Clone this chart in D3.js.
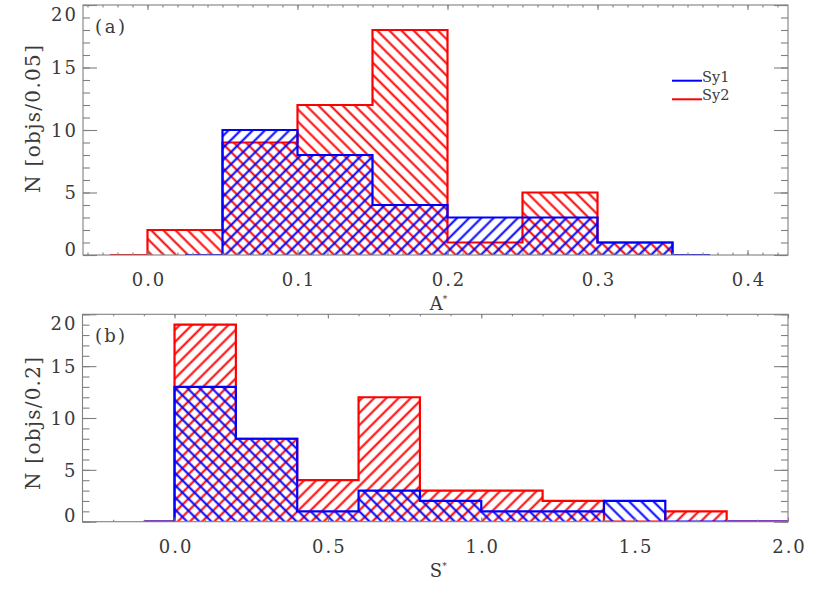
<!DOCTYPE html>
<html><head><meta charset="utf-8">
<script src="https://cdn.jsdelivr.net/npm/d3@7"></script>
<style>html,body{margin:0;padding:0;background:#fff;} svg{display:block}</style>
</head><body>
<svg id="chart" width="830" height="593"></svg>
<script>
// ---------- Panel (a): A* histogram, bin width 0.05 ----------
const aBinWidth = 0.05;
const aSy1Start = 0.05;
const aSy1 = [10, 8, 4, 3, 3, 1];
const aSy2Start = 0.00;
const aSy2 = [2, 9, 12, 18, 1, 5, 1];
const aXTicks = [0.0, 0.1, 0.2, 0.3, 0.4];
const aXTickLabels = ["0.0", "0.1", "0.2", "0.3", "0.4"];
const aYTicks = [0, 5, 10, 15, 20];

// ---------- Panel (b): S* histogram, bin width 0.2 ----------
const bBinWidth = 0.2;
const bSy1Start = 0.0;
const bSy1 = [13, 8, 1, 3, 2, 1, 1, 2, 0, 0];
const bSy2Start = 0.0;
const bSy2 = [19, 8, 4, 12, 3, 3, 2, 0, 1, 0];
const bXTicks = [0.0, 0.5, 1.0, 1.5, 2.0];
const bXTickLabels = ["0.0", "0.5", "1.0", "1.5", "2.0"];
const bYTicks = [0, 5, 10, 15, 20];

const seriesNames = ["Sy1", "Sy2"];
const seriesColors = ["#0000ff", "#ff0000"];

const FONT = "'DejaVu Serif', serif";
const TXT = "#3a3a3a";
const AX = "#808080";

const svg = d3.select("#chart");
const defs = svg.append("defs");

function hatch(id, color, angle) {
  const s = 8.6;
  const p = defs.append("pattern").attr("id", id)
    .attr("patternUnits", "userSpaceOnUse")
    .attr("width", s).attr("height", s)
    .attr("patternTransform", `rotate(${angle})`);
  p.append("line").attr("x1", s / 2).attr("y1", -1).attr("x2", s / 2).attr("y2", s + 1)
    .attr("stroke", color).attr("stroke-width", 2);
}
hatch("hRedBack", seriesColors[1], -45);
hatch("hBlueFwd", seriesColors[0], 45);
hatch("hRedFwd", seriesColors[1], 45);
hatch("hBlueBack", seriesColors[0], -45);

function stepPoints(start, w, vals) {
  const pts = [[start - w / 2, 0], [start, 0]];
  vals.forEach((v, i) => { pts.push([start + i * w, v]); pts.push([start + (i + 1) * w, v]); });
  const end = start + vals.length * w;
  pts.push([end, 0]); pts.push([end + w / 2, 0]);
  return pts;
}
function areaPoints(start, w, vals) {
  const pts = [[start, 0]];
  vals.forEach((v, i) => { pts.push([start + i * w, v]); pts.push([start + (i + 1) * w, v]); });
  pts.push([start + vals.length * w, 0]);
  return pts;
}

const panels = [
  { id: "a", xDomain: [-0.043, 0.427], xRange: [83, 788], yRange: [255, 5],
    binW: aBinWidth, sy1Start: aSy1Start, sy1: aSy1, sy2Start: aSy2Start, sy2: aSy2,
    xTicks: aXTicks, xLabels: aXTickLabels, yTicks: aYTicks, xMinorStep: 0.01,
    redPat: "hRedBack", bluePat: "hBlueFwd",
    xTitle: "A", yTitle: "N [objs/0.05]", yTitleLen: 148, yTitleY: 119, tag: "(a)", legend: true },
  { id: "b", xDomain: [-0.3, 2.0], xRange: [82.5, 788], yRange: [521.7, 314.3],
    binW: bBinWidth, sy1Start: bSy1Start, sy1: bSy1, sy2Start: bSy2Start, sy2: bSy2,
    xTicks: bXTicks, xLabels: bXTickLabels, yTicks: bYTicks, xMinorStep: 0.1,
    redPat: "hRedFwd", bluePat: "hBlueBack",
    xTitle: "S", yTitle: "N [objs/0.2]", yTitleLen: 133, yTitleY: 423.5, tag: "(b)", legend: false }
];

panels.forEach(P => {
  const x = d3.scaleLinear().domain(P.xDomain).range(P.xRange);
  const y = d3.scaleLinear().domain([0, 20]).range(P.yRange);
  const [x0, x1] = P.xRange, [yb, yt] = P.yRange;

  defs.append("clipPath").attr("id", "clip" + P.id)
    .append("rect").attr("x", x0).attr("y", yt).attr("width", x1 - x0).attr("height", yb - yt);

  const g = svg.append("g").attr("clip-path", `url(#clip${P.id})`);
  const line = d3.line().x(d => x(d[0])).y(d => y(d[1]));

  const series = [
    { start: P.sy2Start, vals: P.sy2, color: seriesColors[1], pat: P.redPat },
    { start: P.sy1Start, vals: P.sy1, color: seriesColors[0], pat: P.bluePat }
  ];
  series.forEach(s => {
    g.append("path").attr("d", line(areaPoints(s.start, P.binW, s.vals)) + "Z")
      .attr("fill", `url(#${s.pat})`).attr("stroke", "none");
    g.append("path").attr("d", line(stepPoints(s.start, P.binW, s.vals)))
      .attr("fill", "none").attr("stroke", s.color).attr("stroke-width", 2.2)
      .attr("stroke-linejoin", "miter");
  });

  // Axes
  const xMinor = d3.range(Math.ceil(P.xDomain[0] / P.xMinorStep), Math.floor(P.xDomain[1] / P.xMinorStep) + 1)
    .map(k => +(k * P.xMinorStep).toFixed(4));
  const yMinor = d3.range(0, 21);
  const xTickLen = 0.02 * (yb - yt), yTickLen = 14;

  function styleAxis(sel) {
    sel.select(".domain").remove();
    sel.selectAll(".tick line").attr("stroke", AX).attr("stroke-width", 1.1);
    sel.selectAll(".tick text").attr("font-family", FONT).attr("font-size", 18).attr("fill", TXT);
  }
  // bottom
  svg.append("g").attr("transform", `translate(0,${yb})`)
    .call(d3.axisBottom(x).tickValues(xMinor).tickSize(-xTickLen / 2).tickSizeOuter(0).tickFormat(""))
    .call(styleAxis);
  svg.append("g").attr("transform", `translate(0,${yb})`)
    .call(d3.axisBottom(x).tickValues(P.xTicks).tickSize(-xTickLen).tickSizeOuter(0).tickPadding(18.3)
      .tickFormat((d, i) => P.xLabels[i]))
    .call(styleAxis)
    .call(s => s.selectAll(".tick text").attr("letter-spacing", 2).attr("dx", 1));
  // top
  svg.append("g").attr("transform", `translate(0,${yt})`)
    .call(d3.axisTop(x).tickValues(xMinor).tickSize(-xTickLen / 2).tickSizeOuter(0).tickFormat(""))
    .call(styleAxis);
  svg.append("g").attr("transform", `translate(0,${yt})`)
    .call(d3.axisTop(x).tickValues(P.xTicks).tickSize(-xTickLen).tickSizeOuter(0).tickFormat(""))
    .call(styleAxis);
  // left
  svg.append("g").attr("transform", `translate(${x0},0)`)
    .call(d3.axisLeft(y).tickValues(yMinor).tickSize(-yTickLen / 2).tickSizeOuter(0).tickFormat(""))
    .call(styleAxis);
  svg.append("g").attr("transform", `translate(${x0},0)`)
    .call(d3.axisLeft(y).tickValues(P.yTicks).tickSize(-yTickLen).tickSizeOuter(0).tickPadding(7).tickFormat(d3.format("d")))
    .call(styleAxis)
    .call(s => s.selectAll(".tick text").attr("letter-spacing", 2)
      .attr("dy", d => d === 0 ? "0em" : (d === 20 ? "0.87em" : "0.36em")).attr("dx", 2));
  // right
  svg.append("g").attr("transform", `translate(${x1},0)`)
    .call(d3.axisRight(y).tickValues(yMinor).tickSize(-yTickLen / 2).tickSizeOuter(0).tickFormat(""))
    .call(styleAxis);
  svg.append("g").attr("transform", `translate(${x1},0)`)
    .call(d3.axisRight(y).tickValues(P.yTicks).tickSize(-yTickLen).tickSizeOuter(0).tickFormat(""))
    .call(styleAxis);

  // frame
  svg.append("rect").attr("x", x0).attr("y", yt).attr("width", x1 - x0).attr("height", yb - yt)
    .attr("fill", "none").attr("stroke", AX).attr("stroke-width", 1.1);

  // titles
  const xt = svg.append("text").attr("x", (x0 + x1) / 2 + 3).attr("y", yb + 55)
    .attr("text-anchor", "middle").attr("font-family", FONT).attr("font-size", 18).attr("fill", TXT);
  xt.append("tspan").text(P.xTitle);
  xt.append("tspan").attr("font-size", 9).attr("dy", -8).text("*");

  svg.append("text").attr("transform", `translate(39.5,${P.yTitleY}) rotate(-90)`)
    .attr("text-anchor", "middle").attr("font-family", FONT).attr("font-size", 20).attr("fill", TXT)
    .attr("textLength", P.yTitleLen).attr("lengthAdjust", "spacing")
    .text(P.yTitle);

  svg.append("text").attr("x", 95).attr("y", yt + 28)
    .attr("font-family", FONT).attr("font-size", 18).attr("fill", TXT)
    .attr("textLength", 30).attr("lengthAdjust", "spacing").text(P.tag);

  if (P.legend) {
    seriesNames.forEach((name, i) => {
      const ly = 80.7 + i * 18.6;
      svg.append("line").attr("x1", 672).attr("x2", 702).attr("y1", ly).attr("y2", ly)
        .attr("stroke", seriesColors[i]).attr("stroke-width", 2);
      svg.append("text").attr("x", 702).attr("y", ly + 1).attr("font-family", FONT).attr("font-size", 14.5)
        .attr("fill", TXT).text(name);
    });
  }
});
</script>
</body></html>
